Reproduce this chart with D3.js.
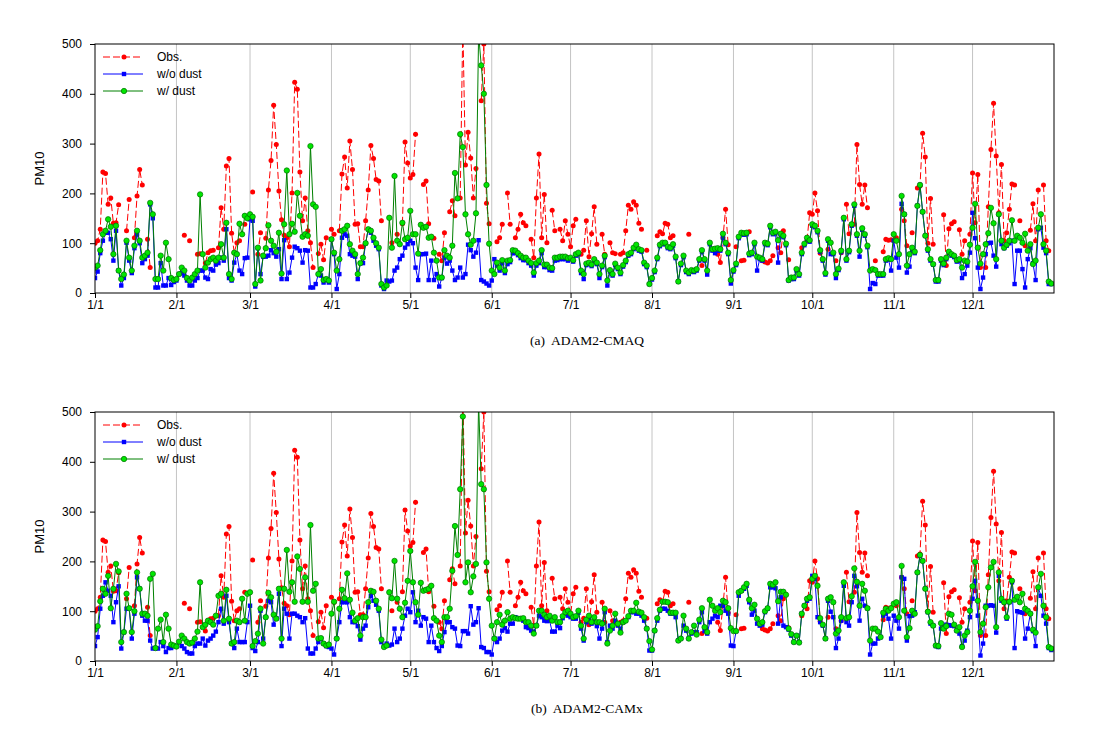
<!DOCTYPE html>
<html><head><meta charset="utf-8">
<script src="https://cdn.jsdelivr.net/npm/d3@7"></script>
<style>body{margin:0;background:#fff}</style>
</head><body>
<svg id="c" width="1119" height="746"></svg>
<script>
const monthDays = [0,31,59,90,120,151,181,212,243,273,304,334];
const monthLabels = ["1/1","2/1","3/1","4/1","5/1","6/1","7/1","8/1","9/1","10/1","11/1","12/1"];
const yTicks = [0,100,200,300,400,500];
const seriesNames = ["Obs.","w/o dust","w/ dust"];
const panelTitles = ["(a)  ADAM2-CMAQ","(b)  ADAM2-CAMx"];
const yLabel = "PM10";

// Observed daily PM10 (same in both panels); null = missing day
const obs = [
100,105,128,243,240,178,191,140,141,177,
null,null,125,188,null,111,195,248,217,null,
108,51,null,null,null,null,null,null,null,null,
null,null,null,null,116,null,105,null,null,78,
79,null,60,81,85,86,null,91,171,128,
255,270,120,81,101,105,null,138,null,null,
203,null,78,121,null,110,207,266,377,298,
205,147,116,111,93,201,423,409,243,145,
191,125,101,51,null,79,98,67,111,null,
128,118,null,125,239,273,211,305,248,138,
139,93,93,145,207,296,270,228,225,145,
null,null,null,101,null,118,null,139,303,261,
231,238,319,null,null,218,225,139,null,110,
null,78,65,121,null,163,185,155,null,191,
540,257,323,271,191,250,null,386,500,180,
139,null,null,103,111,138,null,201,138,null,
111,128,158,141,135,null,108,71,191,279,
111,198,101,null,166,125,null,128,105,145,
118,93,135,148,null,78,86,145,73,119,
173,98,null,118,78,null,101,81,79,null,
78,81,125,176,168,183,176,140,128,null,
86,null,null,null,115,123,119,140,138,111,
115,null,null,null,null,null,118,null,null,null,
null,55,null,null,null,null,null,78,61,111,
168,97,null,null,93,null,65,66,null,123,
null,null,null,null,65,62,60,65,75,null,
91,81,125,null,67,null,null,null,null,91,
null,105,161,158,201,165,80,null,null,88,
null,null,65,null,81,null,178,119,null,138,
298,218,178,217,171,null,null,65,null,null,
83,108,106,107,null,111,null,168,145,95,
null,121,null,211,215,321,273,100,190,98,
null,null,null,157,55,129,139,143,null,127,
78,105,null,118,241,141,238,51,null,51,
173,288,381,275,161,258,105,121,168,219,
217,null,145,null,95,null,126,179,105,207,
null,217,105,85,null
];

// (a) ADAM2-CMAQ, without dust
const woDustCMAQ = [
30,43,80,105,121,121,108,65,125,45,15,30,101,65,40,90,118,100,60,68,75,178,150,11,11,60,15,15,30,16,22,25,38,40,35,25,15,15,25,30,45,45,31,28,48,45,57,60,71,65,128,30,25,61,78,45,38,70,71,148,
145,13,90,38,73,73,75,86,80,73,88,28,106,28,41,71,93,90,85,61,86,85,11,11,18,38,35,21,26,21,108,78,8,38,111,118,115,78,75,73,28,60,60,100,128,121,105,95,88,15,8,25,23,25,45,51,68,75,91,98,
105,100,51,26,78,78,79,26,65,26,38,13,30,71,59,65,45,26,31,51,31,38,97,86,73,81,106,26,23,19,15,25,68,55,45,
60,40,58,62,80,80,76,70,66,66,60,55,35,55,60,80,52,52,46,45,65,66,68,68,68,65,
68,63,75,78,40,28,56,58,54,65,58,30,52,72,15,43,35,56,48,38,53,62,75,78,88,94,85,83,58,52,18,27,42,68,94,98,98,90,88,95,70,23,56,72,42,38,43,42,45,65,83,65,37,98,85,80,85,85,111,98,78,
19,43,56,110,118,117,118,76,78,98,45,68,65,98,96,132,118,120,61,116,112,96,25,28,28,45,35,78,96,108,103,135,132,122,83,65,37,105,78,78,30,46,82,148,65,82,135,175,115,73,127,115,92,8,20,18,35,35,35,65,67,
45,105,71,51,179,158,41,53,85,80,175,217,163,115,85,65,57,23,23,65,56,68,80,75,72,63,65,30,38,55,81,161,110,51,8,31,78,100,101,75,53,158,98,90,95,100,105,18,85,85,48,11,68,90,60,26,128,131,91,80,18,18
];

// (a) ADAM2-CMAQ, with dust
const wDustCMAQ = [
51,55,86,118,125,148,133,78,135,45,28,37,105,71,45,95,125,105,71,75,81,181,158,28,28,75,45,101,68,30,26,28,38,51,45,30,25,31,38,45,198,78,51,61,68,71,65,71,98,71,141,38,28,81,78,139,118,155,150,158,
153,18,91,25,75,90,136,105,95,83,121,39,138,246,118,139,123,201,155,113,118,115,295,178,173,38,48,26,28,25,108,81,45,68,125,128,135,98,85,78,38,60,71,100,128,125,111,100,91,18,11,15,151,91,235,105,98,141,108,111,
165,118,118,79,137,131,133,111,113,81,65,31,31,86,75,71,95,241,190,319,293,158,118,97,105,160,520,457,400,217,99,45,38,61,51,
66,45,65,66,86,85,80,75,71,71,65,60,41,60,65,86,57,57,51,50,71,71,73,73,73,70,
71,66,78,81,45,38,59,61,57,68,61,38,55,75,25,46,38,59,51,41,56,65,78,81,91,97,88,86,61,55,18,30,45,71,97,101,101,93,91,98,73,23,59,75,45,41,46,45,48,68,86,68,45,101,88,89,90,88,119,101,81,
26,46,59,113,121,120,121,79,81,101,73,71,68,101,99,135,121,123,106,119,115,99,26,31,31,48,38,81,99,111,106,138,135,125,86,68,40,108,101,81,38,49,85,151,68,85,138,178,118,85,130,118,95,45,48,46,38,38,38,68,70,
68,118,105,78,195,158,55,78,91,83,175,217,163,115,88,68,58,26,26,68,59,71,83,78,75,66,68,51,65,63,97,131,179,91,59,78,98,120,171,140,68,158,105,91,97,105,146,105,115,111,101,119,85,98,58,65,131,158,98,85,23,19
];

// (b) ADAM2-CAMx, without dust
const woDustCAMx = [
30,48,105,131,158,141,131,78,118,150,25,58,105,106,45,95,168,145,91,81,81,41,25,26,25,38,30,18,26,26,30,30,38,30,25,18,15,15,30,35,35,45,31,41,45,51,59,78,105,75,131,78,35,26,65,38,38,38,78,111,
26,20,38,101,45,88,121,118,73,86,135,30,105,95,45,95,95,91,88,78,86,25,15,15,25,38,45,35,30,28,25,13,45,78,118,118,118,88,78,78,70,43,65,71,108,131,121,113,101,38,30,35,31,33,65,38,45,65,91,
105,98,138,78,101,71,88,85,38,71,38,26,20,30,58,78,78,68,65,31,30,60,60,55,110,73,78,106,28,26,18,18,13,45,38,45,61,66,59,75,75,88,85,85,81,68,66,61,59,71,91,88,81,80,81,59,59,71,66,86,95,91,88,85,
85,97,65,41,78,85,75,78,70,45,65,98,38,71,65,81,71,65,78,81,88,98,98,95,95,91,81,65,21,21,61,81,101,105,105,101,95,95,88,41,45,71,61,45,55,58,58,78,98,60,55,78,85,91,88,111,111,101,95,
31,30,60,131,141,145,151,118,93,101,75,71,73,98,105,148,148,146,75,128,71,68,63,51,38,51,38,95,111,121,125,171,165,88,78,71,45,121,99,88,26,45,81,151,78,71,118,171,150,81,125,111,106,13,35,35,45,48,91,95,85,
45,91,81,65,168,165,41,90,91,98,178,211,201,145,98,75,71,30,28,65,70,73,72,71,70,61,55,30,41,61,88,125,161,91,11,35,111,111,112,111,57,171,121,118,85,118,158,26,100,98,97,45,65,95,60,30,148,131,91,75,26,22
];

// (b) ADAM2-CAMx, with dust
const wDustCAMx = [
63,70,120,145,135,171,106,145,195,180,38,58,135,106,58,100,178,145,95,95,91,165,175,26,65,83,38,93,65,33,31,29,39,51,45,38,35,37,45,59,158,68,73,81,78,73,91,131,135,81,143,85,35,38,81,78,125,81,135,138,
30,40,55,105,35,88,137,128,93,85,145,45,145,223,139,158,119,210,185,119,168,119,273,141,155,45,46,35,31,33,95,119,45,105,143,126,176,123,97,81,86,51,88,88,118,141,139,121,105,43,28,31,138,126,201,125,105,88,117,
161,221,158,118,93,157,141,143,145,151,86,81,51,38,88,88,105,181,271,213,345,491,158,198,138,170,195,520,355,345,198,125,71,45,78,93,73,81,98,85,88,86,85,85,86,78,78,71,55,71,101,101,93,88,91,81,88,78,78,90,98,101,95,88,
90,101,71,45,83,91,78,88,78,78,75,105,35,61,71,95,75,57,78,81,90,101,101,117,99,97,88,65,40,23,61,86,103,119,119,118,97,97,97,41,45,91,65,45,58,71,53,83,106,68,58,123,111,101,106,98,121,118,106,
66,60,60,138,141,148,155,123,106,113,85,75,78,100,106,155,153,158,120,139,139,133,65,54,38,51,37,95,111,125,128,165,171,151,86,73,45,125,128,118,55,61,88,158,86,88,130,186,159,111,155,141,106,41,65,65,59,48,97,105,101,
106,115,118,88,191,101,48,66,101,95,178,213,201,145,99,78,71,31,30,76,65,70,95,93,73,61,68,28,51,58,101,150,199,121,58,75,108,148,188,199,68,178,125,118,88,119,161,123,129,118,135,105,101,95,63,57,148,175,111,88,28,25
];

const svg = d3.select("#c");
const FONT = "'Liberation Sans', Arial, sans-serif";
const x = d3.scaleLinear().domain([0, 365]).range([95, 1054]);
const H = 249;

const colObs = "#ff0000", colNo = "#0000ff", colW = "#008000", colWfill = "#00e600";

function drawPanel(top, woDust, wDust, title, idx) {
  const y = d3.scaleLinear().domain([0, 500]).range([top + H, top]);
  const g = svg.append("g");
  const clipId = "clip" + idx;
  svg.append("defs").append("clipPath").attr("id", clipId)
    .append("rect").attr("x", x(0)).attr("y", top).attr("width", x(365) - x(0)).attr("height", H);

  // vertical grid lines
  g.selectAll("line.grid").data(monthDays.slice(1)).join("line")
    .attr("class", "grid")
    .attr("x1", d => x(d)).attr("x2", d => x(d))
    .attr("y1", top).attr("y2", top + H)
    .attr("stroke", "#c4c4c4").attr("stroke-width", 1);

  const plot = g.append("g").attr("clip-path", `url(#${clipId})`);
  const days = d3.range(365);

  const line = arr => d3.line().defined(i => arr[i] != null)
    .x(i => x(i)).y(i => y(arr[i]))(days);

  // Obs
  plot.append("path").attr("d", line(obs)).attr("fill", "none")
    .attr("stroke", colObs).attr("stroke-width", 1).attr("stroke-dasharray", "7,3");
  plot.selectAll("circle.obs").data(days.filter(i => obs[i] != null)).join("circle")
    .attr("cx", i => x(i)).attr("cy", i => y(obs[i])).attr("r", 2.5).attr("fill", colObs);

  // w/o dust
  plot.append("path").attr("d", line(woDust)).attr("fill", "none")
    .attr("stroke", colNo).attr("stroke-width", 1);
  plot.selectAll("rect.no").data(days).join("rect")
    .attr("x", i => x(i) - 2.2).attr("y", i => y(woDust[i]) - 2.2)
    .attr("width", 4.4).attr("height", 4.4).attr("fill", colNo);

  // w/ dust
  plot.append("path").attr("d", line(wDust)).attr("fill", "none")
    .attr("stroke", colW).attr("stroke-width", 1);
  plot.selectAll("circle.wd").data(days).join("circle")
    .attr("cx", i => x(i)).attr("cy", i => y(wDust[i])).attr("r", 2.7)
    .attr("fill", colWfill).attr("stroke", "#007000").attr("stroke-width", 0.7);

  // frame
  g.append("rect").attr("x", x(0)).attr("y", top).attr("width", x(365) - x(0)).attr("height", H)
    .attr("fill", "none").attr("stroke", "#000").attr("stroke-width", 1);

  // axes
  const xa = g.append("g").attr("transform", `translate(0,${top + H})`)
    .call(d3.axisBottom(x).tickValues(monthDays).tickFormat((d, i) => monthLabels[i]).tickSize(5).tickSizeOuter(0).tickPadding(2));
  xa.select(".domain").remove();
  const ya = g.append("g").attr("transform", `translate(${x(0)},0)`)
    .call(d3.axisLeft(y).tickValues(yTicks).tickSize(5).tickSizeOuter(0).tickPadding(8));
  ya.select(".domain").remove();
  [xa, ya].forEach(a => a.selectAll("text").attr("font-family", FONT).attr("font-size", 12).attr("fill", "#000"));
  [xa, ya].forEach(a => a.selectAll("line").attr("stroke", "#000"));

  // y label
  g.append("text").attr("transform", `translate(44,${top + H / 2}) rotate(-90)`)
    .attr("text-anchor", "middle").attr("font-family", FONT).attr("font-size", 13).text(yLabel);

  // caption
  g.append("text").attr("x", 587).attr("y", top + H + 52)
    .attr("text-anchor", "middle").attr("font-family", "'Liberation Serif', 'DejaVu Serif', serif")
    .attr("font-size", 13.5).style("white-space", "pre").text(title);

  // legend
  const leg = g.append("g");
  const rowsY = [top + 13, top + 30, top + 47];
  seriesNames.forEach((name, k) => {
    const ly = rowsY[k];
    const ln = leg.append("line").attr("x1", 103).attr("x2", 143).attr("y1", ly).attr("y2", ly).attr("stroke-width", 1);
    if (k === 0) {
      ln.attr("stroke", colObs).attr("stroke-dasharray", "7,3");
      leg.append("circle").attr("cx", 124).attr("cy", ly).attr("r", 2.5).attr("fill", colObs);
    } else if (k === 1) {
      ln.attr("stroke", colNo);
      leg.append("rect").attr("x", 124 - 2.2).attr("y", ly - 2.2).attr("width", 4.4).attr("height", 4.4).attr("fill", colNo);
    } else {
      ln.attr("stroke", colW);
      leg.append("circle").attr("cx", 124).attr("cy", ly).attr("r", 2.7).attr("fill", colWfill).attr("stroke", "#007000").attr("stroke-width", 0.7);
    }
    leg.append("text").attr("x", 157).attr("y", ly).attr("dy", "0.35em")
      .attr("font-family", FONT).attr("font-size", 12).text(name);
  });
}

drawPanel(44, woDustCMAQ, wDustCMAQ, panelTitles[0], 0);
drawPanel(412, woDustCAMx, wDustCAMx, panelTitles[1], 1);
</script>
</body></html>
